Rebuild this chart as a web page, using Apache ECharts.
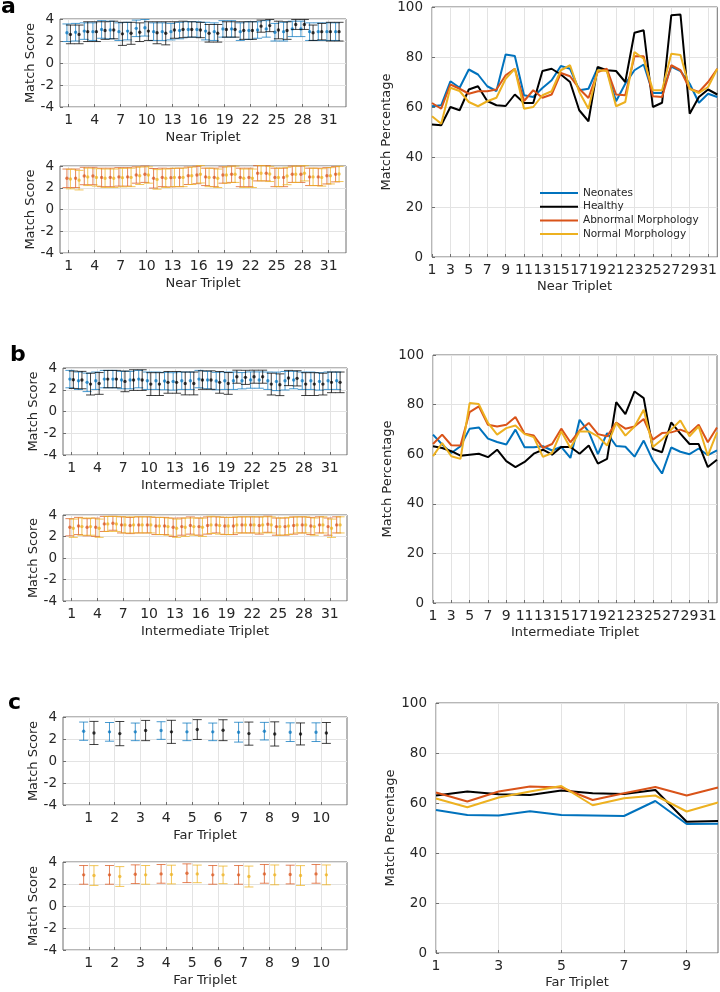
<!DOCTYPE html>
<html><head><meta charset="utf-8">
<script src="https://cdn.jsdelivr.net/npm/echarts@6/dist/echarts.min.js"></script>
<style>html,body{margin:0;padding:0;background:#fff}#c{width:720px;height:992px}</style>
</head><body><div id="c"></div>
<script>
// ---------------- categories / ticks ----------------
const nearTriplets = [1,2,3,4,5,6,7,8,9,10,11,12,13,14,15,16,17,18,19,20,21,22,23,24,25,26,27,28,29,30,31,32];
const farTriplets = [1,2,3,4,5,6,7,8,9,10];
const nearScoreTicks = [1,4,7,10,13,16,19,22,25,28,31];
const farScoreTicks = [1,2,3,4,5,6,7,8,9,10];
const scoreTicks = [-4,-2,0,2,4];
const pctTicks = [0,20,40,60,80,100];
const seriesNames = ['Neonates','Healthy','Abnormal Morphology','Normal Morphology'];

// ---------------- a: Near triplet match scores ----------------
const nearNeoMean = [2.75,2.8,2.9,2.85,3.05,3.0,2.85,2.9,3.15,3.2,2.85,2.85,2.85,2.95,3.05,3.05,2.9,2.85,3.1,3.1,2.85,2.95,3.0,3.1,2.8,2.85,3.1,3.1,2.85,2.85,2.85,2.85];
const nearNeoErr = [0.8,0.8,0.75,0.8,0.8,0.8,0.8,0.8,0.75,0.75,0.8,0.8,0.75,0.75,0.7,0.7,0.8,0.8,0.75,0.75,0.8,0.8,0.75,0.75,0.8,0.85,0.7,0.7,0.8,0.8,0.8,0.8];
const nearHealthyMean = [2.6,2.6,2.85,2.85,2.95,3.0,2.65,2.7,2.8,2.9,2.75,2.7,3.0,3.05,3.05,3.0,2.7,2.7,3.05,3.05,2.95,2.95,3.35,3.4,3.0,2.95,3.5,3.5,2.75,2.85,2.85,2.85];
const nearHealthyErr = [0.85,0.85,0.9,0.9,0.8,0.8,1.05,1.0,0.85,0.85,1.0,1.05,0.75,0.75,0.7,0.7,0.8,0.8,0.7,0.7,0.8,0.8,0.55,0.55,0.8,0.8,0.45,0.45,0.7,0.75,0.85,0.85];
const nearAbnMean = [2.87,2.87,3.08,3.08,2.95,2.95,3.0,3.0,3.17,3.24,2.87,2.95,2.93,2.95,3.1,3.17,3.0,2.95,3.17,3.24,2.95,2.95,3.33,3.33,2.95,2.95,3.24,3.24,3.0,3.0,3.1,3.24];
const nearAbnErr = [0.85,0.85,0.8,0.8,0.85,0.85,0.85,0.85,0.75,0.75,0.9,0.85,0.85,0.85,0.8,0.8,0.8,0.85,0.75,0.75,0.85,0.85,0.7,0.7,0.85,0.85,0.75,0.75,0.8,0.8,0.75,0.7];
const nearNormMean = [2.8,2.7,3.0,2.95,2.87,2.87,2.93,2.95,3.1,3.17,2.77,2.87,2.95,2.95,3.1,3.24,2.95,2.87,3.17,3.24,2.87,2.87,3.33,3.27,2.95,3.08,3.24,3.33,3.0,2.95,3.1,3.27];
const nearNormErr = [0.9,0.9,0.8,0.8,0.85,0.85,0.85,0.85,0.8,0.75,0.9,0.85,0.85,0.85,0.8,0.8,0.85,0.85,0.75,0.75,0.85,0.85,0.7,0.7,0.85,0.8,0.75,0.7,0.8,0.8,0.75,0.7];

// a: Near triplet match percentages
const nearNeoPct = [60.3,60.7,70.3,67.7,75,73,68.3,66.4,81,80.4,64.7,64,67.6,70.7,76.4,75.3,66.7,67.3,75.6,74.7,62.3,69.3,74.7,77,65.6,65.6,76.2,74.4,69.3,61.7,65.3,64];
const nearHealthyPct = [53,52.7,60,58.7,67,68.3,62.4,60.7,60.4,65,61.6,61.6,74.4,75.3,73,70,58.7,54.3,76,74.7,74.4,70,89.7,90.7,60,61.7,96.7,97,57.3,64,67,65];
const nearAbnPct = [61.6,59.3,69,67.3,65.3,66.3,66.3,67,72.7,75.3,62.4,66.7,63.7,65,73.6,72.3,67.3,63.6,74,75.3,65,64.7,80.3,80.3,64.3,64,76.7,74.7,67.3,66,70,75.3];
const nearNormPct = [56.3,53.3,67.7,66.4,62,60.3,62.3,63.7,71.3,75.3,59.3,60,64.7,66.3,74.7,76.7,66,59.3,74.7,74.4,60.3,62,82,79.3,66.7,66.7,81.3,80.8,67.3,65.6,68,75.3];

// ---------------- b: Intermediate triplet match scores ----------------
const interNeoMean = [2.98,2.83,2.68,2.83,2.98,2.98,2.89,2.89,2.98,2.83,2.83,2.8,2.77,2.83,2.83,2.98,2.89,2.8,2.83,2.83,2.83,2.89,2.89,2.83,2.77,2.83,2.89,2.83,2.83,2.77,2.83,2.83];
const interNeoErr = [0.8,0.8,0.85,0.8,0.8,0.8,0.8,0.8,0.8,0.8,0.8,0.8,0.8,0.8,0.8,0.8,0.8,0.8,0.8,0.8,0.75,0.75,0.75,0.8,0.85,0.85,0.8,0.8,0.8,0.8,0.8,0.8];
const interHealthyMean = [2.92,2.89,2.52,2.58,2.98,2.98,2.77,2.89,2.89,2.52,2.52,2.68,2.68,2.58,2.58,2.89,2.89,2.68,2.58,3.2,3.14,3.2,3.2,2.52,2.46,3.08,3.05,2.52,2.52,2.52,2.68,2.68];
const interHealthyErr = [0.8,0.8,1.0,1.0,0.8,0.8,0.95,0.95,0.95,1.05,1.05,1.0,1.0,1.05,1.05,0.85,0.85,1.0,1.0,0.6,0.65,0.6,0.6,1.0,1.0,0.7,0.7,1.05,1.05,1.0,0.95,0.95];
const interAbnMean = [2.86,2.98,2.86,2.86,3.17,3.23,3.08,3.02,3.08,3.08,2.98,2.98,2.86,2.92,3.02,2.92,3.02,3.08,2.98,2.98,3.08,3.08,3.02,3.14,2.92,2.92,3.02,3.08,2.98,3.08,2.92,3.08];
const interAbnErr = [0.8,0.8,0.8,0.85,0.7,0.65,0.75,0.75,0.75,0.75,0.8,0.8,0.85,0.8,0.8,0.8,0.8,0.75,0.8,0.8,0.75,0.75,0.8,0.75,0.8,0.8,0.8,0.75,0.8,0.75,0.8,0.75];
const interNormMean = [2.77,2.92,2.92,2.77,3.17,3.17,3.08,3.08,3.08,3.08,2.98,2.92,2.77,2.86,2.92,2.86,3.08,3.02,2.98,3.08,3.08,3.08,3.08,3.08,2.92,2.98,3.08,3.08,2.92,3.08,2.77,3.08];
const interNormErr = [0.85,0.8,0.8,0.85,0.7,0.7,0.75,0.75,0.75,0.75,0.8,0.8,0.85,0.85,0.8,0.85,0.8,0.8,0.8,0.75,0.75,0.75,0.75,0.75,0.8,0.8,0.75,0.75,0.8,0.75,0.85,0.75];

// b: Intermediate triplet match percentages
const interNeoPct = [67.9,63.9,60.5,63.2,70.3,70.8,66.3,64.9,63.9,69.9,62.8,62.8,63.2,61.5,63.0,58.5,73.9,69.0,60.0,68.5,63.3,63.0,59.0,65.5,57.5,52.2,62.7,61.0,60.0,62.3,59.6,61.5];
const interHealthyPct = [63.2,62.5,61.2,59.4,59.8,60.2,58.8,61.8,57.2,54.8,56.9,60.2,61.8,59.8,62.9,62.9,60.2,63.5,56.2,58.1,81,76.2,85.3,82.6,62.1,60.8,72.8,68.3,64.1,64.1,54.8,57.8];
const interAbnPct = [64.1,67.9,63.6,63.5,77,79.3,71.9,71.2,71.9,75,68.3,67.5,62.5,64.1,70.3,64.8,69.5,72.6,68.1,67.2,72.8,70.3,71.2,74.2,65.9,68.5,68.8,69.9,68.5,71.9,64.8,70.8];
const interNormPct = [59.2,64.5,59.2,58.1,80.6,80.2,72.6,67.9,70.5,71.6,68.1,66.9,58.9,60.5,69.2,62.5,69.2,69.2,67.2,63.5,72.6,67.5,71.2,77.9,62.9,65.9,69.9,73.6,67.2,71.2,59.4,68.8];

// ---------------- c: Far triplet match scores ----------------
const farNeoMean = [2.71,2.65,2.65,2.77,2.65,2.65,2.62,2.71,2.62,2.62];
const farNeoErr = [0.83,0.85,0.8,0.8,0.8,0.8,0.9,0.8,0.85,0.85];
const farHealthyMean = [2.55,2.49,2.77,2.65,2.86,2.8,2.49,2.46,2.46,2.55];
const farHealthyErr = [1.05,1.1,0.92,1.05,0.9,0.95,1.05,1.1,1.0,0.95];
const farAbnMean = [2.83,2.83,2.89,2.92,2.98,2.83,2.83,2.92,2.86,2.92];
const farAbnErr = [0.85,0.85,0.85,0.85,0.85,0.85,0.85,0.85,0.85,0.85];
const farNormMean = [2.77,2.68,2.83,2.86,2.92,2.83,2.68,2.83,2.77,2.83];
const farNormErr = [0.9,0.9,0.85,0.85,0.8,0.8,0.95,0.9,0.9,0.9];

// c: Far triplet match percentages
const farNeoPct = [57.2,55.2,55,56.7,55.2,55,54.8,60.8,51.6,51.7];
const farHealthyPct = [63,64.6,63.5,63.2,65,63.9,63.6,65.2,52.5,52.8];
const farAbnPct = [64.2,60.6,64.6,66.6,66.2,61.2,63.9,66.4,63,66.2];
const farNormPct = [61.8,58.3,62.2,64.6,66.8,59.1,61.9,63,56.6,60.2];

// ---------------- styling ----------------
const FONT = 'DejaVu Sans';
const TXT = '#262626';
const BORDER = '#6e6e6e';
const GRIDC = '#e3e3e3';
const C_BLUE = '#0072BD', C_BLACK = '#000000', C_ORANGE = '#D95319', C_YELLOW = '#EDB120';
const E_BLUE = 'rgba(0,114,189,0.72)', E_BLACK = 'rgba(0,0,0,0.75)', E_ORANGE = 'rgba(217,83,25,0.72)', E_YELLOW = 'rgba(237,177,32,0.75)';
const CAP = 4.5;
const XTICK_FS = 14, YTICK_FS = 13.5, NAME_FS = 13;

const chart = echarts.init(document.getElementById('c'), null, {renderer: 'canvas'});

const grids = [], xAxes = [], yAxes = [], series = [];

function errSeries(xi, yi, means, errs, offset, color, name) {
  return {
    type: 'custom', name: name, xAxisIndex: xi, yAxisIndex: yi, silent: true,
    data: means.map((m, i) => [i + 1 + offset, m, errs[i]]),
    encode: {x: 0, y: 1},
    renderItem: function (params, api) {
      const x = api.value(0), m = api.value(1), e = api.value(2);
      const t = api.coord([x, m + e]), b = api.coord([x, m - e]), c = api.coord([x, m]);
      const st = {stroke: color, lineWidth: 1};
      return {type: 'group', children: [
        {type: 'line', shape: {x1: t[0], y1: t[1], x2: b[0], y2: b[1]}, style: st},
        {type: 'line', shape: {x1: t[0] - CAP, y1: t[1], x2: t[0] + CAP, y2: t[1]}, style: st},
        {type: 'line', shape: {x1: b[0] - CAP, y1: b[1], x2: b[0] + CAP, y2: b[1]}, style: st},
        {type: 'circle', shape: {cx: c[0], cy: c[1], r: 1.7}, style: {fill: color}}
      ]};
    }
  };
}

function addScoreGrid(box, triplets, tickList, xName, groups) {
  const gi = grids.length;
  grids.push(Object.assign({show: true, borderColor: BORDER, borderWidth: 1, backgroundColor: '#fff'}, box));
  const maxX = triplets.length + 1;
  const xv = xAxes.length;
  xAxes.push({type: 'value', gridIndex: gi, min: 0, max: maxX, show: false});
  const cats = [];
  for (let k = 0; k <= maxX; k++) cats.push(String(k));
  const showFn = (idx) => tickList.indexOf(idx) >= 0;
  xAxes.push({
    type: 'category', gridIndex: gi, data: cats, boundaryGap: false, position: 'bottom',
    axisLine: {show: false},
    axisTick: {show: true, inside: true, length: 3, interval: showFn, lineStyle: {color: BORDER}},
    axisLabel: {interval: showFn, margin: 6, fontFamily: FONT, fontSize: XTICK_FS, color: TXT},
    splitLine: {show: true, interval: showFn, lineStyle: {color: GRIDC, width: 1}},
    name: xName, nameLocation: 'middle', nameGap: 24,
    nameTextStyle: {fontFamily: FONT, fontSize: NAME_FS, color: TXT}
  });
  const yi = yAxes.length;
  yAxes.push({
    type: 'value', gridIndex: gi, min: scoreTicks[0], max: scoreTicks[scoreTicks.length - 1], interval: 2,
    axisLine: {show: false},
    axisTick: {show: true, inside: true, length: 3, lineStyle: {color: BORDER}},
    axisLabel: {margin: 6, fontFamily: FONT, fontSize: YTICK_FS, color: TXT},
    splitLine: {show: true, lineStyle: {color: GRIDC, width: 1}},
    name: 'Match Score', nameLocation: 'middle', nameGap: 23, nameRotate: 90,
    nameTextStyle: {fontFamily: FONT, fontSize: NAME_FS, color: TXT}
  });
  groups.forEach(g => series.push(errSeries(xv, yi, g.mean, g.err, g.off, g.color, g.name)));
}

function addPctGrid(box, triplets, xName, nameGapY, lines) {
  const gi = grids.length;
  grids.push(Object.assign({show: true, borderColor: BORDER, borderWidth: 1, backgroundColor: '#fff'}, box));
  const xi = xAxes.length;
  xAxes.push({
    type: 'category', gridIndex: gi, data: triplets.map(String), boundaryGap: false,
    axisLine: {show: false},
    axisTick: {show: true, inside: true, length: 3, interval: 1, lineStyle: {color: BORDER}},
    axisLabel: {interval: 1, margin: 6, fontFamily: FONT, fontSize: XTICK_FS, color: TXT},
    splitLine: {show: true, interval: 1, lineStyle: {color: GRIDC, width: 1}},
    name: xName, nameLocation: 'middle', nameGap: 23,
    nameTextStyle: {fontFamily: FONT, fontSize: NAME_FS, color: TXT}
  });
  const yi = yAxes.length;
  yAxes.push({
    type: 'value', gridIndex: gi, min: pctTicks[0], max: pctTicks[pctTicks.length - 1], interval: 20,
    axisLine: {show: false},
    axisTick: {show: true, inside: true, length: 3, lineStyle: {color: BORDER}},
    axisLabel: {margin: 9, fontFamily: FONT, fontSize: YTICK_FS, color: TXT},
    splitLine: {show: true, lineStyle: {color: GRIDC, width: 1}},
    name: 'Match Percentage', nameLocation: 'middle', nameGap: nameGapY, nameRotate: 90,
    nameTextStyle: {fontFamily: FONT, fontSize: NAME_FS, color: TXT}
  });
  lines.forEach(l => series.push({
    type: 'line', name: l.name, xAxisIndex: xi, yAxisIndex: yi, data: l.data,
    symbol: 'none', showSymbol: false, silent: true, animation: false,
    lineStyle: {color: l.color, width: 2}, itemStyle: {color: l.color}
  }));
}

// ---- panel a ----
addScoreGrid({left: 60, top: 19, width: 286, height: 88}, nearTriplets, nearScoreTicks, 'Near Triplet', [
  {mean: nearNeoMean, err: nearNeoErr, off: -0.2, color: E_BLUE, name: 'nearNeo'},
  {mean: nearHealthyMean, err: nearHealthyErr, off: 0.2, color: E_BLACK, name: 'nearHealthy'}]);
addScoreGrid({left: 60, top: 166, width: 286, height: 87}, nearTriplets, nearScoreTicks, 'Near Triplet', [
  {mean: nearAbnMean, err: nearAbnErr, off: -0.2, color: E_ORANGE, name: 'nearAbn'},
  {mean: nearNormMean, err: nearNormErr, off: 0.2, color: E_YELLOW, name: 'nearNorm'}]);
// ---- panel b ----
addScoreGrid({left: 63, top: 368, width: 284, height: 87}, nearTriplets, nearScoreTicks, 'Intermediate Triplet', [
  {mean: interNeoMean, err: interNeoErr, off: -0.2, color: E_BLUE, name: 'interNeo'},
  {mean: interHealthyMean, err: interHealthyErr, off: 0.2, color: E_BLACK, name: 'interHealthy'}]);
addScoreGrid({left: 63, top: 515, width: 284, height: 86}, nearTriplets, nearScoreTicks, 'Intermediate Triplet', [
  {mean: interAbnMean, err: interAbnErr, off: -0.2, color: E_ORANGE, name: 'interAbn'},
  {mean: interNormMean, err: interNormErr, off: 0.2, color: E_YELLOW, name: 'interNorm'}]);
// ---- panel c ----
addScoreGrid({left: 63, top: 717, width: 284, height: 88}, farTriplets, farScoreTicks, 'Far Triplet', [
  {mean: farNeoMean, err: farNeoErr, off: -0.2, color: E_BLUE, name: 'farNeo'},
  {mean: farHealthyMean, err: farHealthyErr, off: 0.2, color: E_BLACK, name: 'farHealthy'}]);
addScoreGrid({left: 63, top: 862, width: 284, height: 88}, farTriplets, farScoreTicks, 'Far Triplet', [
  {mean: farAbnMean, err: farAbnErr, off: -0.2, color: E_ORANGE, name: 'farAbn'},
  {mean: farNormMean, err: farNormErr, off: 0.2, color: E_YELLOW, name: 'farNorm'}]);

// ---- right percentage charts ----
addPctGrid({left: 432, top: 7, width: 286, height: 250}, nearTriplets, 'Near Triplet', 37, [
  {name: seriesNames[0], data: nearNeoPct, color: C_BLUE},
  {name: seriesNames[1], data: nearHealthyPct, color: C_BLACK},
  {name: seriesNames[2], data: nearAbnPct, color: C_ORANGE},
  {name: seriesNames[3], data: nearNormPct, color: C_YELLOW}]);
addPctGrid({left: 433, top: 355, width: 284, height: 248}, nearTriplets, 'Intermediate Triplet', 35, [
  {name: seriesNames[0], data: interNeoPct, color: C_BLUE},
  {name: seriesNames[1], data: interHealthyPct, color: C_BLACK},
  {name: seriesNames[2], data: interAbnPct, color: C_ORANGE},
  {name: seriesNames[3], data: interNormPct, color: C_YELLOW}]);
addPctGrid({left: 436, top: 703, width: 282, height: 250}, farTriplets, 'Far Triplet', 37, [
  {name: seriesNames[0], data: farNeoPct, color: C_BLUE},
  {name: seriesNames[1], data: farHealthyPct, color: C_BLACK},
  {name: seriesNames[2], data: farAbnPct, color: C_ORANGE},
  {name: seriesNames[3], data: farNormPct, color: C_YELLOW}]);

const panelLetter = (t, x, y) => ({
  type: 'text', x: x, y: y, silent: true,
  style: {text: t, font: 'bold 22px "DejaVu Sans"', fill: '#000', verticalAlign: 'middle', align: 'left'}
});

chart.setOption({
  animation: false,
  backgroundColor: '#fff',
  grid: grids,
  xAxis: xAxes,
  yAxis: yAxes,
  legend: {
    data: seriesNames, orient: 'vertical', left: 540, top: 187, padding: 0,
    itemWidth: 38, itemHeight: 2, icon: 'rect', itemGap: 1.7, selectedMode: false,
    textStyle: {fontFamily: FONT, fontSize: 10.5, lineHeight: 12, color: TXT}
  },
  graphic: [panelLetter('a', 1, 7), panelLetter('b', 10, 355), panelLetter('c', 8, 703)],
  series: series
});
</script></body></html>
